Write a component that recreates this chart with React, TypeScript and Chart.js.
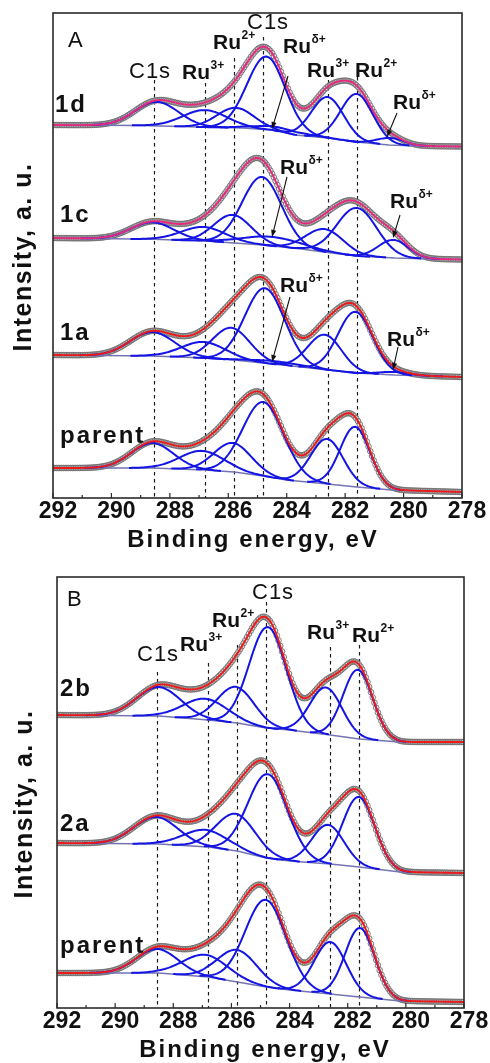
import React, { useEffect, useRef } from "react";
import { Chart, registerables } from "chart.js";
Chart.register(...registerables);

type Peak = [number, number, number]; // [centre eV, height a.u., FWHM eV]

const FONT = "'Liberation Sans', Arial, Helvetica, sans-serif";
const E_MAX = 292;
const E_MIN = 278;
const X_TICK_STEP = 2;
const REFERENCE_E = [288.55, 286.8, 285.8, 284.8, 282.6, 281.6];
const REF_TOP_A = [418, 415, 440, 461, 418, 421];
const REF_TOP_B = [336, 345, 363, 406, 361, 363];

// ---------- Panel A ----------
const A1d_BKG_E = [292, 289, 287, 285.5, 284.5, 283.7, 282.6, 281.6, 280.5, 279.5, 278];
const A1d_BKG_I = [373, 372.5, 371, 370, 368, 363, 360, 356, 353, 352, 351.5];
const A1d_PEAKS: Peak[] = [
  [288.45, 24, 1.75], [286.8, 17, 1.8], [285.75, 20, 1.5], [284.7, 73, 1.55],
  [284.3, 4, 2.0], [282.6, 41, 1.3], [281.6, 48, 1.3], [280.45, 7, 1.1],
];

const A1c_BKG_E = [292, 288.6, 286.8, 285.8, 284.8, 283.5, 282.6, 281.6, 280.3, 279, 278];
const A1c_BKG_I = [260, 258.7, 257, 255, 253, 249, 245.5, 242, 240, 239, 238.5];
const A1c_PEAKS: Peak[] = [
  [288.6, 17, 1.75], [286.85, 14, 1.8], [285.85, 28, 1.5], [284.85, 68, 1.6],
  [284.5, 9, 2.4], [282.7, 23, 1.5], [281.6, 48, 1.6], [280.35, 18, 1.2],
];

const A1a_BKG_E = [292, 288.6, 286.8, 285.8, 284.8, 283.5, 282.6, 281.6, 280.3, 278];
const A1a_BKG_I = [143, 142, 140, 138, 135, 131, 128, 125, 123, 121];
const A1a_PEAKS: Peak[] = [
  [288.6, 24, 1.8], [286.85, 16, 1.8], [285.9, 32, 1.5], [284.75, 75, 1.6],
  [284.4, 3, 2.0], [282.7, 35, 1.35], [281.65, 61, 1.4], [280.3, 3, 1.2],
];

const AP_BKG_E = [292, 288.6, 286.8, 285.8, 284.8, 284, 282.6, 281.6, 280.4, 278];
const AP_BKG_I = [30, 30, 28, 26, 22, 18, 14, 11, 8, 6];
const AP_PEAKS: Peak[] = [
  [288.6, 25, 1.7], [286.9, 19, 1.8], [285.85, 29, 1.5], [284.8, 74, 1.65],
  [282.62, 45, 1.3], [281.66, 60, 1.2],
];

// ---------- Panel B ----------
const B_BKG_E = [292, 288.5, 286.8, 285.8, 284.8, 284, 282.6, 281.6, 280.2, 278];
const B2b_BKG_I = [293, 292, 288, 285, 280, 278, 273, 269, 266, 266];
const B2b_PEAKS: Peak[] = [
  [288.5, 29, 1.8], [286.9, 21, 1.8], [285.85, 36, 1.5], [284.75, 101, 1.5],
  [282.75, 47, 1.3], [281.65, 69, 1.2],
];
const B2a_BKG_I = [165, 164, 161, 157, 150, 147, 144, 141, 136, 135];
const B2a_PEAKS: Peak[] = [
  [288.6, 27, 1.8], [286.9, 17, 1.8], [285.85, 37, 1.6], [284.75, 84, 1.6],
  [282.68, 39, 1.3], [281.62, 70, 1.3],
];
const BP_BKG_I = [35, 35, 31, 26, 21, 18, 14, 11, 7, 6];
const BP_PEAKS: Peak[] = [
  [288.55, 24, 1.7], [286.9, 22, 1.85], [285.8, 32, 1.6], [284.82, 87, 1.65],
  [282.6, 52, 1.3], [281.58, 69, 1.2],
];

interface Spectrum { bkgE: number[]; bkgI: number[]; peaks: Peak[]; fit: string }

const PINK = "#e62a80";
const RED = "#ee1a1a";
const BLUE = "#1414e4";
const BKG = "#7474b4";

const SPECTRA_A: Spectrum[] = [
  { bkgE: A1d_BKG_E, bkgI: A1d_BKG_I, peaks: A1d_PEAKS, fit: PINK },
  { bkgE: A1c_BKG_E, bkgI: A1c_BKG_I, peaks: A1c_PEAKS, fit: PINK },
  { bkgE: A1a_BKG_E, bkgI: A1a_BKG_I, peaks: A1a_PEAKS, fit: RED },
  { bkgE: AP_BKG_E, bkgI: AP_BKG_I, peaks: AP_PEAKS, fit: RED },
];
const SPECTRA_B: Spectrum[] = [
  { bkgE: B_BKG_E, bkgI: B2b_BKG_I, peaks: B2b_PEAKS, fit: RED },
  { bkgE: B_BKG_E, bkgI: B2a_BKG_I, peaks: B2a_PEAKS, fit: RED },
  { bkgE: B_BKG_E, bkgI: BP_BKG_I, peaks: BP_PEAKS, fit: RED },
];

function bkgAt(E: number, s: Spectrum) {
  const { bkgE, bkgI } = s;
  if (E >= bkgE[0]) return bkgI[0];
  for (let i = 0; i < bkgE.length - 1; i++) {
    if (E <= bkgE[i] && E >= bkgE[i + 1]) {
      const t = (bkgE[i] - E) / (bkgE[i] - bkgE[i + 1]);
      return bkgI[i] + t * (bkgI[i + 1] - bkgI[i]);
    }
  }
  return bkgI[bkgI.length - 1];
}
function peakAt(E: number, p: Peak) {
  const s = p[2] / 2.3548;
  return p[1] * Math.exp(-((E - p[0]) ** 2) / (2 * s * s));
}
function envelope(E: number, s: Spectrum) {
  return bkgAt(E, s) + s.peaks.reduce((a, p) => a + peakAt(E, p), 0);
}

function buildDatasets(specs: Spectrum[]) {
  const ds: any[] = [];
  const grid: number[] = [];
  for (let k = 0; k <= 280; k++) grid.push(+(E_MAX - k * 0.05).toFixed(3));
  const dotGrid: number[] = [];
  for (let k = 0; k <= 233; k++) dotGrid.push(+(E_MAX - k * 0.06).toFixed(3));
  specs.forEach((s) => {
    ds.push({
      data: grid.map((E) => ({ x: E, y: envelope(E, s) })),
      borderColor: s.fit, borderWidth: 1.9, pointRadius: 0, order: 0,
    });
    s.peaks.forEach((p) => {
      const sig = p[2] / 2.3548;
      ds.push({
        data: grid.filter((E) => Math.abs(E - p[0]) <= 3.3 * sig)
          .map((E) => ({ x: E, y: bkgAt(E, s) + peakAt(E, p) })),
        borderColor: BLUE, borderWidth: 2, pointRadius: 0, order: 2,
      });
    });
    ds.push({
      data: s.bkgE.map((E, i) => ({ x: E, y: s.bkgI[i] })),
      borderColor: BKG, borderWidth: 1.6, pointRadius: 0, order: 3,
    });
    ds.push({
      data: dotGrid.map((E) => ({ x: E, y: envelope(E, s) })),
      showLine: false, pointRadius: 2.8, pointBorderWidth: 0.9,
      pointBorderColor: "#6c6c6c", pointBackgroundColor: "rgba(225,225,225,0.3)", order: 5,
    });
  });
  return ds;
}

interface Label { t: string; sup?: string; x: number; y: number; bold?: boolean; size: number; ls?: number }
interface Arrow { x1: number; y1: number; x2: number; y2: number }

// page-pixel layout of annotations
const LABELS_A: Label[] = [
  { t: "A", x: 68, y: 41, size: 22 },
  { t: "C1s", x: 129, y: 72, size: 22, ls: 1 },
  { t: "Ru", sup: "3+", x: 182, y: 73, bold: true, size: 21 },
  { t: "Ru", sup: "2+", x: 213, y: 43, bold: true, size: 21 },
  { t: "C1s", x: 247, y: 23, size: 22, ls: 1 },
  { t: "Ru", sup: "δ+", x: 283, y: 47, bold: true, size: 21 },
  { t: "Ru", sup: "3+", x: 307, y: 71, bold: true, size: 21 },
  { t: "Ru", sup: "2+", x: 355, y: 71, bold: true, size: 21 },
  { t: "Ru", sup: "δ+", x: 393, y: 103, bold: true, size: 21 },
  { t: "Ru", sup: "δ+", x: 280, y: 168, bold: true, size: 21 },
  { t: "Ru", sup: "δ+", x: 390, y: 202, bold: true, size: 21 },
  { t: "Ru", sup: "δ+", x: 280, y: 286, bold: true, size: 21 },
  { t: "Ru", sup: "δ+", x: 387, y: 340, bold: true, size: 21 },
  { t: "1d", x: 55, y: 105, bold: true, size: 24, ls: 2 },
  { t: "1c", x: 60, y: 215, bold: true, size: 24, ls: 2 },
  { t: "1a", x: 60, y: 333, bold: true, size: 24, ls: 2 },
  { t: "parent", x: 60, y: 436, bold: true, size: 24, ls: 2 },
];
const ARROWS_A: Arrow[] = [
  { x1: 288, y1: 76, x2: 272, y2: 129 },
  { x1: 397, y1: 113, x2: 387, y2: 137 },
  { x1: 287, y1: 177, x2: 272, y2: 237 },
  { x1: 400, y1: 215, x2: 393, y2: 238 },
  { x1: 290, y1: 297, x2: 272, y2: 362 },
  { x1: 398, y1: 347, x2: 393, y2: 370 },
];
const LABELS_B: Label[] = [
  { t: "B", x: 67, y: 600, size: 22 },
  { t: "C1s", x: 252, y: 593, size: 22, ls: 1 },
  { t: "Ru", sup: "2+", x: 212, y: 621, bold: true, size: 21 },
  { t: "C1s", x: 137, y: 655, size: 22, ls: 1 },
  { t: "Ru", sup: "3+", x: 180, y: 645, bold: true, size: 21 },
  { t: "Ru", sup: "3+", x: 307, y: 633, bold: true, size: 21 },
  { t: "Ru", sup: "2+", x: 352, y: 636, bold: true, size: 21 },
  { t: "2b", x: 60, y: 689, bold: true, size: 24, ls: 2 },
  { t: "2a", x: 60, y: 824, bold: true, size: 24, ls: 2 },
  { t: "parent", x: 60, y: 946, bold: true, size: 24, ls: 2 },
];

interface PanelCfg {
  top: number; height: number; padL: number; padR: number; padT: number; axisH: number;
  yMax: number; refTop: number[]; labels: Label[]; arrows: Arrow[];
  xTitle: [number, number]; yTitle: [number, number]; specs: Spectrum[];
}

const PANEL_A: PanelCfg = {
  top: 0, height: 560, padL: 53, padR: 28, padT: 13, axisH: 62, yMax: 485,
  refTop: REF_TOP_A, labels: LABELS_A, arrows: ARROWS_A,
  xTitle: [253, 540], yTitle: [24, 257], specs: SPECTRA_A,
};
const PANEL_B: PanelCfg = {
  top: 560, height: 503, padL: 57, padR: 26, padT: 17, axisH: 55, yMax: 431,
  refTop: REF_TOP_B, labels: LABELS_B, arrows: [],
  xTitle: [265, 1050], yTitle: [25, 804], specs: SPECTRA_B,
};

function drawText(ctx: any, l: Label, off: number) {
  ctx.save();
  ctx.fillStyle = "#111";
  ctx.textBaseline = "middle";
  ctx.textAlign = "left";
  ctx.letterSpacing = (l.ls || 0) + "px";
  ctx.font = `${l.bold ? "bold " : ""}${l.size}px ${FONT}`;
  ctx.fillText(l.t, l.x, l.y - off);
  if (l.sup) {
    const w = ctx.measureText(l.t).width;
    ctx.letterSpacing = "0px";
    ctx.font = `bold 12px ${FONT}`;
    ctx.fillText(l.sup, l.x + w + 0.5, l.y - off - 7);
  }
  ctx.restore();
}

function makePlugin(cfg: PanelCfg) {
  return {
    id: "xpsDecor",
    beforeDatasetsDraw(chart: any) {
      const { ctx, chartArea: a, scales } = chart;
      const x = scales.x, y = scales.y;
      ctx.save();
      ctx.strokeStyle = "#1a1a1a";
      ctx.lineWidth = 1.2;
      ctx.setLineDash([3.5, 3.5]);
      REFERENCE_E.forEach((E, i) => {
        const px = Math.round(x.getPixelForValue(E)) + 0.5;
        ctx.beginPath();
        ctx.moveTo(px, y.getPixelForValue(cfg.refTop[i]));
        ctx.lineTo(px, a.bottom);
        ctx.stroke();
      });
      ctx.restore();
    },
    afterDraw(chart: any) {
      const { ctx, chartArea: a, scales } = chart;
      const x = scales.x;
      const off = cfg.top;
      ctx.save();
      ctx.strokeStyle = "#2a2a2a";
      ctx.lineWidth = 1.6;
      ctx.strokeRect(a.left, a.top, a.right - a.left, a.bottom - a.top);
      ctx.lineWidth = 1.2;
      for (let v = E_MIN; v <= E_MAX; v += 1) {
        const px = x.getPixelForValue(v);
        const len = v % 2 === 0 ? 5 : 3;
        ctx.beginPath();
        ctx.moveTo(px, a.bottom);
        ctx.lineTo(px, a.bottom - len);
        ctx.stroke();
      }
      ctx.strokeStyle = "#111";
      ctx.fillStyle = "#111";
      ctx.lineWidth = 1.1;
      cfg.arrows.forEach((r) => {
        const x1 = r.x1, y1 = r.y1 - off, x2 = r.x2, y2 = r.y2 - off;
        const ang = Math.atan2(y2 - y1, x2 - x1);
        ctx.beginPath();
        ctx.moveTo(x1, y1);
        ctx.lineTo(x2 - 4 * Math.cos(ang), y2 - 4 * Math.sin(ang));
        ctx.stroke();
        ctx.beginPath();
        ctx.moveTo(x2, y2);
        ctx.lineTo(x2 - 7 * Math.cos(ang) + 2.6 * Math.sin(ang), y2 - 7 * Math.sin(ang) - 2.6 * Math.cos(ang));
        ctx.lineTo(x2 - 7 * Math.cos(ang) - 2.6 * Math.sin(ang), y2 - 7 * Math.sin(ang) + 2.6 * Math.cos(ang));
        ctx.closePath();
        ctx.fill();
      });
      ctx.restore();
      cfg.labels.forEach((l) => drawText(ctx, l, off));
      ctx.save();
      ctx.fillStyle = "#111";
      ctx.textAlign = "center";
      ctx.textBaseline = "middle";
      ctx.font = `bold 24px ${FONT}`;
      ctx.letterSpacing = "2px";
      ctx.fillText("Binding energy, eV", cfg.xTitle[0], cfg.xTitle[1] - off);
      ctx.translate(cfg.yTitle[0], cfg.yTitle[1] - off);
      ctx.rotate(-Math.PI / 2);
      ctx.font = `bold 25px ${FONT}`;
      ctx.letterSpacing = "1.5px";
      ctx.fillText("Intensity, a. u.", 0, 0);
      ctx.restore();
    },
  };
}

function Panel({ cfg }: { cfg: PanelCfg }) {
  const ref = useRef<HTMLCanvasElement | null>(null);
  useEffect(() => {
    if (!ref.current) return;
    const chart = new Chart(ref.current, {
      type: "line",
      data: { datasets: buildDatasets(cfg.specs) },
      options: {
        animation: false,
        responsive: false,
        maintainAspectRatio: false,
        events: [],
        parsing: false,
        layout: { padding: { left: cfg.padL, right: cfg.padR, top: cfg.padT, bottom: 0 } },
        plugins: { legend: { display: false }, tooltip: { enabled: false }, title: { display: false } },
        elements: { line: { tension: 0 } },
        scales: {
          x: {
            type: "linear", reverse: true, min: E_MIN, max: E_MAX,
            ticks: {
              stepSize: X_TICK_STEP, color: "#111", padding: 0, labelOffset: 5,
              maxRotation: 0, autoSkip: false,
              font: { family: FONT, size: 23, weight: "bold" },
            },
            grid: { display: false, drawTicks: false },
            border: { display: false },
            afterFit: (s: any) => { s.height = cfg.axisH; },
          },
          y: { type: "linear", display: false, min: 0, max: cfg.yMax },
        },
      } as any,
      plugins: [makePlugin(cfg)],
    });
    return () => chart.destroy();
  }, [cfg]);
  return (
    <canvas
      ref={ref}
      width={490}
      height={cfg.height}
      style={{ position: "absolute", left: 0, top: cfg.top, width: 490, height: cfg.height }}
    />
  );
}

export default function App() {
  return (
    <div style={{ position: "absolute", left: 0, top: 0, width: 490, height: 1063, background: "#fff" }}>
      <Panel cfg={PANEL_A} />
      <Panel cfg={PANEL_B} />
    </div>
  );
}
